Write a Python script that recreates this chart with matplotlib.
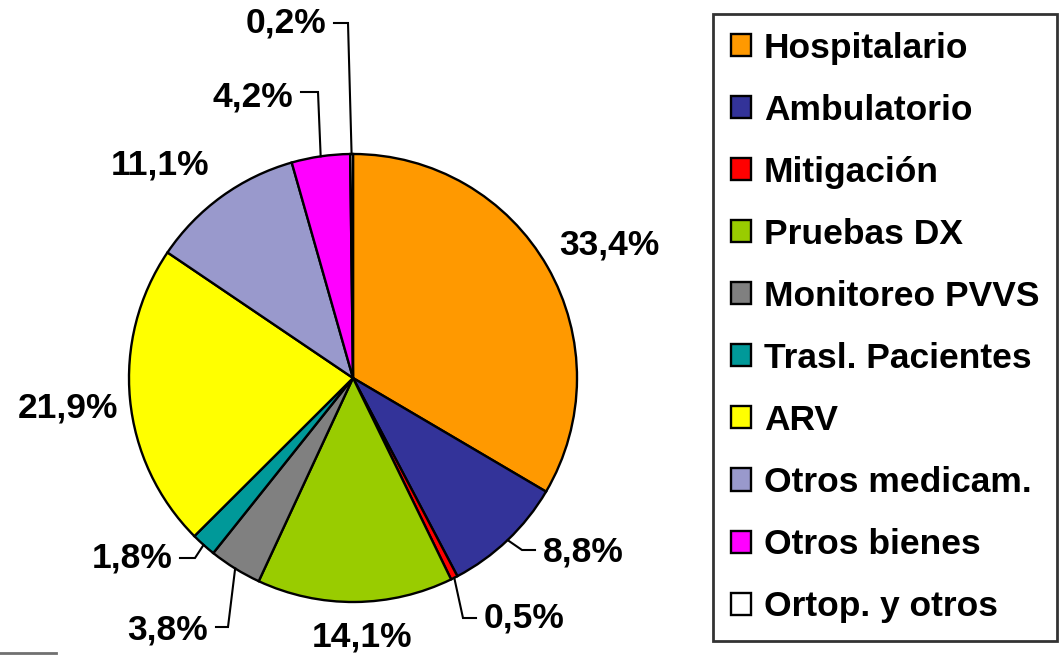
import matplotlib.pyplot as plt
from matplotlib.lines import Line2D
import numpy as np

# datos del gráfico
categorias = ['Hospitalario', 'Ambulatorio', 'Mitigación', 'Pruebas DX',
              'Monitoreo PVVS', 'Trasl. Pacientes', 'ARV', 'Otros medicam.',
              'Otros bienes', 'Ortop. y otros']
porcentajes = [33.4, 8.8, 0.5, 14.1, 3.8, 1.8, 21.9, 11.1, 4.2, 0.2]
etiquetas = ['33,4%', '8,8%', '0,5%', '14,1%', '3,8%', '1,8%',
             '21,9%', '11,1%', '4,2%', '0,2%']
colores = ['#FF9900', '#333399', '#FF0000', '#99CC00', '#808080',
           '#009999', '#FFFF00', '#9999CC', '#FF00FF', '#FFFFFF']

plt.rcParams['font.family'] = ['Liberation Sans', 'DejaVu Sans']
plt.rcParams['font.weight'] = 'bold'
FS = 25.5

W, H = 1061, 655
CX, CY, R = 353, 378, 224

fig = plt.figure(figsize=(W / 100, H / 100), dpi=100)
ax = fig.add_axes([(CX - R) / W, (H - CY - R) / H, 2 * R / W, 2 * R / H])

wedges, _ = ax.pie(porcentajes, colors=colores, startangle=90, counterclock=False,
                   radius=1, wedgeprops=dict(edgecolor='black', linewidth=1.7))
ax.set_xlim(-1, 1)
ax.set_ylim(-1, 1)
ax.axis('off')


def px(x, y):
    # pixeles de la imagen -> unidades del radio
    return (x - CX) / R, (CY - y) / R


# posicion del texto (px), alineacion, codo de la linea guia (px o None)
layout = [
    ((609, 245), 'center', None),
    ((543, 552), 'left', (522, 550)),
    ((484, 618), 'left', (463, 618)),
    ((362, 637), 'center', None),
    ((208, 630), 'right', (228, 627)),
    ((172, 558), 'right', (195, 558)),
    ((68, 408), 'center', None),
    ((160, 165), 'center', None),
    ((293, 97), 'right', (318, 92)),
    ((326, 23), 'right', (348, 23)),
]

for w, lab, (pos, ha, codo) in zip(wedges, etiquetas, layout):
    tx, ty = px(*pos)
    ax.text(tx, ty, lab, ha=ha, va='center', fontsize=FS, fontweight='bold',
            clip_on=False)
    if codo is not None:
        ang = np.deg2rad((w.theta1 + w.theta2) / 2)
        x0, y0 = np.cos(ang), np.sin(ang)
        ex, ey = px(*codo)
        gap = 8 / R
        fx = tx - gap if ha == 'left' else tx + gap
        ax.plot([x0, ex, fx], [y0, ey, ey], color='black', lw=1.5,
                clip_on=False, solid_joinstyle='miter')

leg = fig.legend(wedges, categorias, loc='upper left',
                 bbox_to_anchor=(713 / W, 1 - 14 / H), fontsize=FS,
                 frameon=True, fancybox=False, edgecolor='black',
                 handlelength=0.58, handleheight=0.58, handletextpad=0.35,
                 labelspacing=0.82, borderpad=0.5, borderaxespad=0)
leg.get_frame().set_linewidth(2)
for t in leg.get_texts():
    t.set_fontweight('bold')

# pequeña linea gris en la esquina inferior izquierda
fig.add_artist(Line2D([0, 56 / W], [1 - 653 / H] * 2, color='#707070', lw=2))

fig.savefig('out.png', dpi=100)
